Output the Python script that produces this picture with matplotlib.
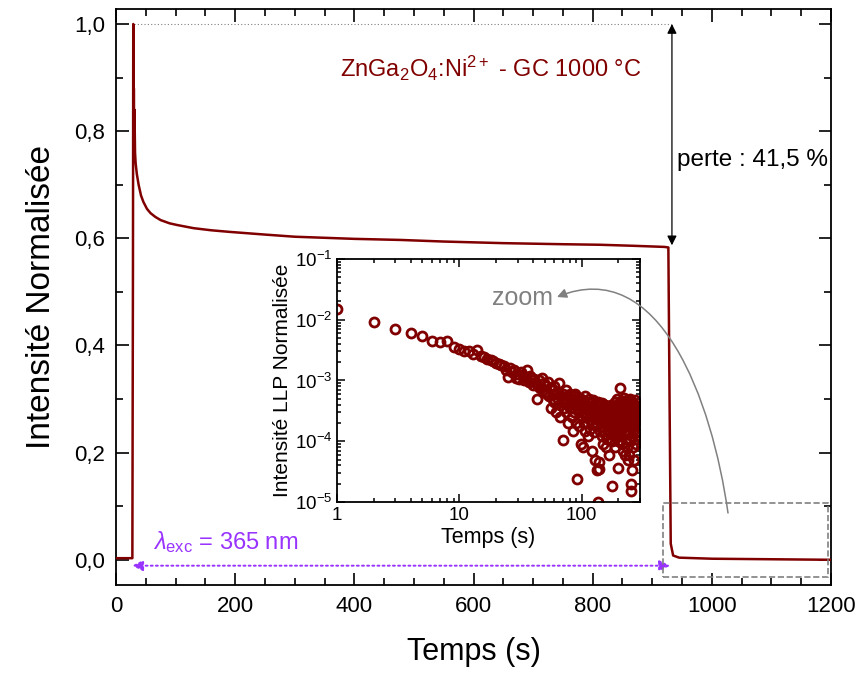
import matplotlib.pyplot as plt
import numpy as np
from matplotlib.ticker import MultipleLocator, FuncFormatter, LogLocator, NullFormatter
from matplotlib.patches import Rectangle, FancyArrowPatch
from matplotlib.path import Path

plt.rcParams['font.family'] = ['Liberation Sans', 'DejaVu Sans']
plt.rcParams['mathtext.fontset'] = 'custom'
plt.rcParams['mathtext.rm'] = 'Liberation Sans'
plt.rcParams['mathtext.it'] = 'Liberation Sans:italic'

red = '#800000'
purple = '#9933ff'

# courbe principale (temps en s, intensité normalisée)
temps = [0, 27.5, 28.5, 29.0, 29.5, 30.0, 30.5, 31, 32, 33, 35, 38, 42, 46, 52, 58,
         66, 75, 90, 102, 130, 160, 191, 250, 300, 400, 477, 550, 650, 750, 812,
         870, 920, 927, 929, 931, 935, 945, 1000, 1200]
intensite = [0.003, 0.003, 0.55, 1.0, 0.75, 0.88, 0.78, 0.84, 0.76, 0.74, 0.72, 0.70,
             0.68, 0.668, 0.655, 0.647, 0.64, 0.634, 0.628, 0.625, 0.619, 0.615, 0.612,
             0.607, 0.603, 0.599, 0.597, 0.594, 0.591, 0.589, 0.588, 0.586, 0.584,
             0.583, 0.3, 0.03, 0.008, 0.004, 0.002, 0.0]

# déclin LLP (encart), un point par seconde de 1 à 280 s
llp = [
    1.5e-2, 9.1e-3, 7.0e-3, 6.1e-3, 5.3e-3, 4.5e-3, 4.3e-3, 4.4e-3, 3.6e-3, 3.3e-3,
    3.1e-3, 3.0e-3, 2.7e-3, 3.2e-3, 2.5e-3, 2.4e-3, 2.3e-3, 2.2e-3, 2.1e-3, 1.95e-3,
    1.9e-3, 1.8e-3, 1.7e-3, 1.5e-3, 1.15e-3, 1.6e-3, 1.4e-3, 1.5e-3, 1.1e-3, 1.3e-3,
    1.05e-3, 1.4e-3, 1.2e-3, 1.0e-3, 1.15e-3, 1.5e-3, 0.95e-3, 1.2e-3, 1.0e-3, 0.85e-3,
    1.05e-3, 0.9e-3, 5.0e-4, 0.8e-3, 1.0e-3, 0.75e-3, 1.1e-3, 0.7e-3, 0.9e-3, 0.65e-3,
    0.8e-3, 0.6e-3, 0.95e-3, 0.55e-3, 0.75e-3, 0.35e-3, 0.7e-3, 0.5e-3, 0.8e-3, 0.45e-3,
    0.6e-3, 0.3e-3, 0.65e-3, 0.5e-3, 0.9e-3, 0.4e-3, 0.25e-3, 0.55e-3, 0.45e-3, 1.05e-4,
    0.6e-3, 0.35e-3, 0.5e-3, 0.7e-3, 0.3e-3, 0.45e-3, 0.55e-3, 0.2e-3, 0.4e-3, 0.6e-3,
    0.35e-3, 0.5e-3, 0.25e-3, 0.45e-3, 0.15e-3, 0.55e-3, 0.3e-3, 0.4e-3, 0.6e-3, 0.2e-3,
    0.45e-3, 2.4e-5, 0.35e-3, 0.5e-3, 0.18e-3, 0.3e-3, 0.4e-3, 0.09e-3, 0.5e-3, 0.25e-3,
    0.35e-3, 0.08e-3, 0.45e-3, 0.2e-3, 0.3e-3, 0.55e-3, 0.15e-3, 0.4e-3, 0.25e-3, 0.35e-3,
    0.2e-3, 0.45e-3, 0.12e-3, 0.3e-3, 0.5e-3, 0.22e-3, 0.38e-3, 0.16e-3, 0.28e-3, 0.42e-3,
    0.07e-3, 0.33e-3, 0.2e-3, 0.48e-3, 0.26e-3, 0.14e-3, 0.36e-3, 0.24e-3, 0.05e-3, 0.3e-3,
    0.4e-3, 0.18e-3, 0.28e-3, 3.4e-5, 1.0e-5, 0.22e-3, 0.45e-3, 0.32e-3, 4.5e-5, 3.5e-5,
    0.25e-3, 0.15e-3, 0.38e-3, 0.2e-3, 0.3e-3, 0.12e-3, 0.27e-3, 0.42e-3, 0.09e-3, 0.23e-3,
    0.33e-3, 0.17e-3, 0.26e-3, 0.4e-3, 0.13e-3, 0.21e-3, 0.3e-3, 0.08e-3, 0.35e-3, 0.19e-3,
    0.28e-3, 0.11e-3, 0.24e-3, 0.37e-3, 0.16e-3, 0.3e-3, 0.2e-3, 0.06e-3, 0.26e-3, 0.33e-3,
    0.14e-3, 0.22e-3, 0.4e-3, 0.18e-3, 0.29e-3, 0.1e-3, 0.25e-3, 1.8e-5, 0.2e-3, 0.32e-3,
    0.15e-3, 0.27e-3, 0.36e-3, 0.12e-3, 0.23e-3, 0.45e-3, 0.19e-3, 0.3e-3, 0.08e-3, 0.25e-3,
    0.38e-3, 0.17e-3, 0.28e-3, 0.13e-3, 0.5e-3, 0.22e-3, 0.34e-3, 0.1e-3, 0.26e-3, 3.6e-5,
    0.2e-3, 0.42e-3, 0.15e-3, 0.3e-3, 7.6e-4, 0.24e-3, 0.12e-3, 0.36e-3, 0.19e-3, 0.28e-3,
    0.46e-3, 0.09e-3, 0.22e-3, 0.33e-3, 0.16e-3, 0.25e-3, 0.4e-3, 0.07e-3, 0.3e-3, 0.2e-3,
    0.52e-3, 0.14e-3, 0.27e-3, 0.36e-3, 0.06e-3, 0.23e-3, 0.44e-3, 0.18e-3, 0.31e-3, 0.11e-3,
    0.26e-3, 0.38e-3, 0.08e-3, 0.2e-3, 0.48e-3, 0.15e-3, 0.3e-3, 0.05e-3, 0.24e-3, 0.35e-3,
    0.13e-3, 0.42e-3, 0.19e-3, 0.27e-3, 0.06e-3, 0.34e-3, 0.22e-3, 0.5e-3, 0.1e-3, 0.29e-3,
    1.5e-5, 0.17e-3, 0.4e-3, 0.25e-3, 2.0e-5, 0.32e-3, 0.12e-3, 0.45e-3, 3.3e-5, 0.2e-3,
    0.36e-3, 0.08e-3, 0.28e-3, 0.15e-3, 0.42e-3, 0.22e-3, 0.05e-3, 0.33e-3, 0.18e-3, 0.26e-3,
    0.38e-3, 0.11e-3, 0.3e-3, 0.2e-3, 0.47e-3, 0.14e-3, 0.24e-3, 0.35e-3, 0.09e-3, 0.28e-3,
]
t_llp = np.arange(1, len(llp) + 1)

W, H = 861, 673
fig = plt.figure(figsize=(W / 100, H / 100), dpi=100)
ax = fig.add_axes([0.1347, 0.1308, 0.8305, 0.8558])

ax.plot(temps, intensite, color=red, lw=1.8, zorder=3)
ax.set_xlim(0, 1200)
ax.set_ylim(-0.047, 1.028)

comma = FuncFormatter(lambda v, p: f'{v:.1f}'.replace('.', ','))
ax.xaxis.set_major_locator(MultipleLocator(200))
ax.xaxis.set_minor_locator(MultipleLocator(50))
ax.yaxis.set_major_locator(MultipleLocator(0.2))
ax.yaxis.set_minor_locator(MultipleLocator(0.1))
ax.yaxis.set_major_formatter(comma)
ax.tick_params(which='both', direction='in', top=True, right=True, width=1.2)
ax.tick_params(which='major', length=9, labelsize=16, pad=8)
ax.tick_params(which='minor', length=5)
for s in ax.spines.values():
    s.set_linewidth(1.3)
ax.set_xlabel('Temps (s)', fontsize=22, labelpad=14)
ax.set_ylabel('Intensité Normalisée', fontsize=24, labelpad=12)

# annotations
ax.plot([30, 933], [1.0, 1.0], color='gray', lw=0.8, ls=(0, (1, 2)))
ax.annotate('', xy=(933, 1.0), xytext=(933, 0.587),
            arrowprops=dict(arrowstyle='<|-|>', color='black', lw=0.9,
                            mutation_scale=14, shrinkA=0, shrinkB=0))
ax.text(941, 0.746, 'perte : 41,5 %', fontsize=17.5, va='center', ha='left')
ax.text(376, 0.918, r'ZnGa$_2$O$_4$:Ni$^{2+}$ - GC 1000 °C', color=red,
        fontsize=17, va='center', ha='left')

ax.annotate('', xy=(27, -0.011), xytext=(930, -0.011),
            arrowprops=dict(arrowstyle='<|-|>', color=purple, lw=1.4, ls=':',
                            mutation_scale=16, shrinkA=0, shrinkB=0))
ax.text(62, 0.034, r'$\lambda_{\mathrm{exc}}$ = 365 nm', color=purple,
        fontsize=17, va='center', ha='left')

ax.add_patch(Rectangle((918, -0.032), 277, 0.138, fill=False, ec='gray',
                       ls='--', lw=1.2, zorder=4))

# encart
axi = fig.add_axes([0.3914, 0.2541, 0.3519, 0.3611])
axi.plot(t_llp, llp, ls='none', marker='o', ms=6.5, mfc='none', mec=red, mew=2)
axi.set_xscale('log')
axi.set_yscale('log')
axi.set_xlim(1, 300)
axi.set_ylim(1e-5, 1e-1)
axi.xaxis.set_major_formatter(FuncFormatter(lambda v, p: f'{v:g}'))
axi.xaxis.set_minor_formatter(NullFormatter())
axi.yaxis.set_major_locator(LogLocator(base=10, numticks=10))
axi.yaxis.set_minor_locator(LogLocator(base=10, subs=np.arange(2, 10), numticks=10))
axi.yaxis.set_minor_formatter(NullFormatter())
axi.tick_params(which='both', direction='in', top=True, right=True, width=1.1)
axi.tick_params(which='major', length=6, labelsize=13.5)
axi.tick_params(which='minor', length=3)
for s in axi.spines.values():
    s.set_linewidth(1.3)
axi.set_xlabel('Temps (s)', fontsize=15.5, labelpad=2)
axi.set_ylabel('Intensité LLP Normalisée', fontsize=15, labelpad=2)

fig.text(553 / W, 1 - 298 / H, 'zoom', color='gray', fontsize=18,
         ha='right', va='center')
pts = [(728, 513), (712, 400), (660, 255), (557, 297)]
verts = [(x / W, 1 - y / H) for x, y in pts]
curve = Path(verts, [Path.MOVETO, Path.CURVE4, Path.CURVE4, Path.CURVE4])
fig.add_artist(FancyArrowPatch(path=curve, transform=fig.transFigure,
                               arrowstyle='-|>', mutation_scale=14,
                               color='gray', lw=1.1))

fig.savefig('out.png', dpi=100)
